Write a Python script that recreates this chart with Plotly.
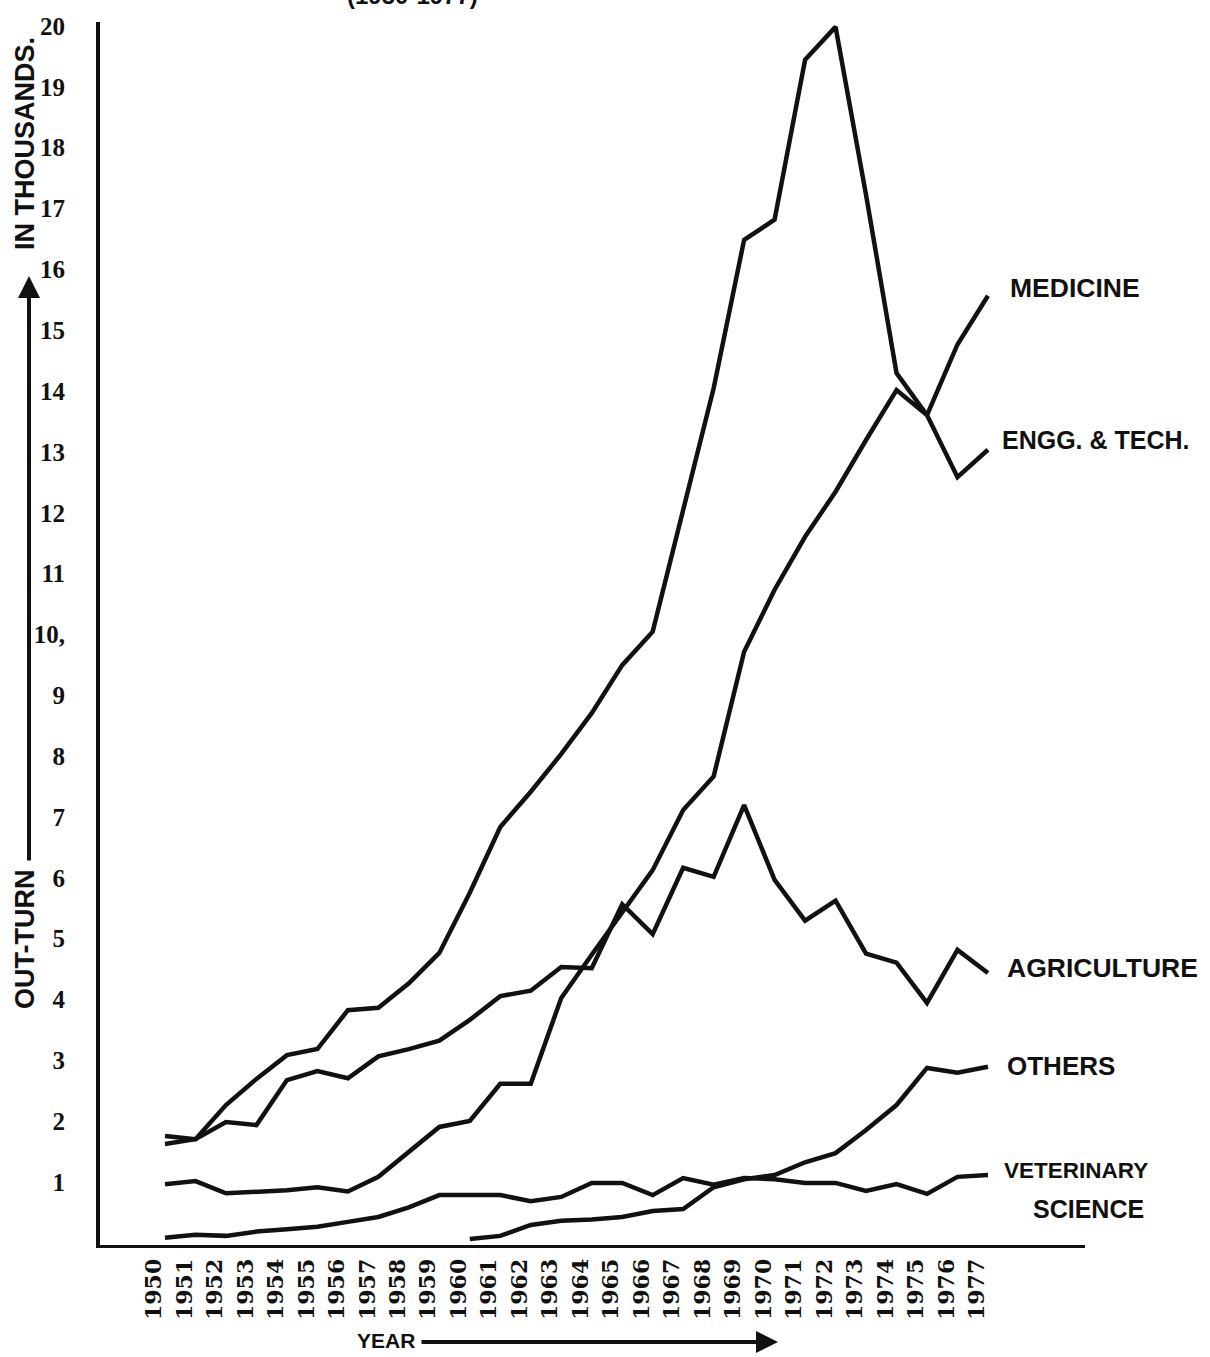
import plotly.graph_objects as go

# ---- data (thousands) ----
years = list(range(1950, 1978))
medicine = [0.90, 0.95, 0.75, 0.78, 0.80, 0.85, 0.78, 1.02, 1.43, 1.84,
            1.94, 2.55, 2.55, 3.96, 4.67, 5.36, 6.06, 7.05, 7.60, 9.65,
            10.67, 11.54, 12.28, 13.13, 13.95, 13.54, 14.70, 15.50]
engg = [1.69, 1.64, 2.20, 2.63, 3.02, 3.12, 3.76, 3.80, 4.20, 4.70,
        5.69, 6.77, 7.35, 7.97, 8.64, 9.43, 9.98, 11.98, 13.98, 16.42,
        16.75, 19.38, 19.92, 17.16, 14.23, 13.54, 12.52, 12.97]
agriculture = [1.56, 1.64, 1.92, 1.87, 2.61, 2.76, 2.64, 3.00, 3.12, 3.26,
               3.60, 3.99, 4.08, 4.47, 4.45, 5.50, 5.01, 6.10, 5.95, 7.13,
               5.90, 5.23, 5.56, 4.69, 4.54, 3.88, 4.75, 4.37]
others = [None] * 10 + [0.00, 0.05, 0.23, 0.30, 0.32, 0.36, 0.46, 0.49, 0.85, 0.98,
                        1.05, 1.26, 1.41, 1.79, 2.20, 2.81, 2.73, 2.83]
veterinary = [0.02, 0.07, 0.05, 0.12, 0.16, 0.20, 0.28, 0.36, 0.52, 0.72,
              0.72, 0.72, 0.62, 0.69, 0.92, 0.92, 0.72, 1.00, 0.89, 1.00,
              0.98, 0.92, 0.92, 0.79, 0.90, 0.74, 1.02, 1.05]

ytick_vals = list(range(1, 21))
ytick_text = ["1", "2", "3", "4", "5", "6", "7", "8", "9", "10,",
              "11", "12", "13", "14", "15", "16", "17", "18", "19", "20"]
xtick_text = [str(y) for y in years]

series = [("MEDICINE", medicine), ("ENGG. & TECH.", engg),
          ("AGRICULTURE", agriculture), ("OTHERS", others),
          ("VETERINARY SCIENCE", veterinary)]

W, H = 1210, 1357
L, R, T, B = 100, 125, 22, 112
PW, PH = W - L - R, H - T - B


def px_x(px):
    return (px - L) / PW


def px_y(py):
    return (H - B - py) / PH


fig = go.Figure()
for name, vals in series:
    fig.add_trace(go.Scatter(x=years, y=vals, mode="lines", name=name,
                             line=dict(color="#111111", width=4.5),
                             connectgaps=False, showlegend=False))


def lab_font(size):
    return dict(family="Liberation Sans", size=size, color="#111111", weight="bold")


annotations = [
    dict(text="MEDICINE", x=px_x(1008), y=px_y(288), font=lab_font(26.5)),
    dict(text="ENGG. &amp; TECH.", x=px_x(1000), y=px_y(440), font=lab_font(25)),
    dict(text="AGRICULTURE", x=px_x(1005), y=px_y(968), font=lab_font(26.5)),
    dict(text="OTHERS", x=px_x(1005), y=px_y(1066), font=lab_font(26)),
    dict(text="VETERINARY", x=px_x(1002), y=px_y(1170), font=lab_font(22.5)),
    dict(text="SCIENCE", x=px_x(1031), y=px_y(1209), font=lab_font(25)),
]
for a in annotations:
    fig.add_annotation(xref="paper", yref="paper", xanchor="left", yanchor="middle",
                       showarrow=False, **a)

# axis titles
fig.add_annotation(xref="paper", yref="paper", x=px_x(25), y=px_y(940),
                   text="OUT-TURN", textangle=-90, showarrow=False, font=lab_font(27),
                   xanchor="center", yanchor="middle")
fig.add_annotation(xref="paper", yref="paper", x=px_x(25), y=px_y(144),
                   text="IN THOUSANDS.", textangle=-90, showarrow=False, font=lab_font(27),
                   xanchor="center", yanchor="middle")
fig.add_annotation(xref="paper", yref="paper", x=px_x(29), y=px_y(276),
                   text="", showarrow=True, ax=0, ay=862 - 276,
                   arrowhead=2, arrowsize=1.1, arrowwidth=4, arrowcolor="#111111")
fig.add_annotation(xref="paper", yref="paper", x=px_x(386), y=px_y(1340),
                   text="YEAR", showarrow=False, font=lab_font(21),
                   xanchor="center", yanchor="middle")
fig.add_annotation(xref="paper", yref="paper", x=px_x(778), y=px_y(1342),
                   text="", showarrow=True, ax=-(778 - 420), ay=0,
                   arrowhead=2, arrowsize=1.1, arrowwidth=4, arrowcolor="#111111")
# partially visible heading at very top of the page
fig.add_annotation(xref="paper", yref="paper", x=px_x(412), y=px_y(-4),
                   text="(1950-1977)", showarrow=False, font=lab_font(24),
                   xanchor="center", yanchor="middle")

x_lo = 1950 - (165 - L) / 30.48
x_hi = x_lo + PW / 30.48

fig.update_xaxes(range=[x_lo, x_hi], tickmode="array", tickvals=years, ticktext=xtick_text,
                 tickangle=-90, showgrid=False, zeroline=False, ticks="",
                 showline=True, linecolor="#111111", linewidth=3,
                 tickfont=dict(family="DejaVu Serif", size=22, color="#111111", weight="bold"),
                 ticklabelshift=-11, ticklabelstandoff=2)
fig.update_yaxes(range=[-0.1, 20], tickmode="array", tickvals=ytick_vals, ticktext=ytick_text,
                 showgrid=False, zeroline=False, ticks="",
                 showline=True, linecolor="#111111", linewidth=4,
                 tickfont=dict(family="Liberation Serif", size=25, color="#111111", weight="bold"),
                 ticklabelstandoff=26, ticklabelshift=4)

fig.update_layout(width=W, height=H, margin=dict(l=L, r=R, t=T, b=B, autoexpand=False),
                  paper_bgcolor="white", plot_bgcolor="white", showlegend=False)

fig.write_html("out.html", config={"displayModeBar": False},
               post_script="document.body.style.margin='0';document.body.style.overflow='hidden';")
